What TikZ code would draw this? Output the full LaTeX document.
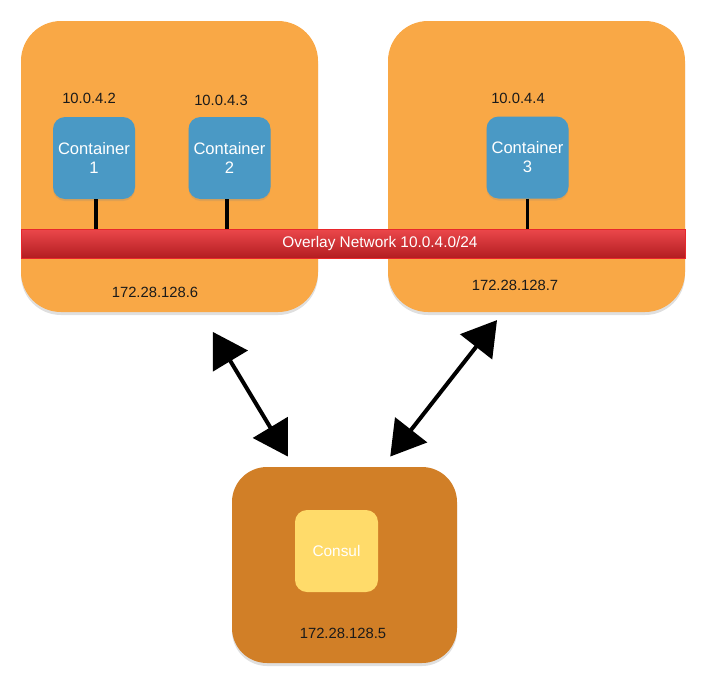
\documentclass[tikz,border=0pt]{standalone}
\usepackage{fontspec}
\setmainfont{Liberation Sans}
\usetikzlibrary{arrows.meta,shadows}
\definecolor{hostorange}{HTML}{F9A846}
\definecolor{consulhost}{HTML}{D17F27}
\definecolor{boxblue}{HTML}{4A99C5}
\definecolor{consulyellow}{HTML}{FFDB6A}
\definecolor{barred}{HTML}{E8272B}
\definecolor{bardark}{HTML}{B31D21}
\definecolor{labelgray}{HTML}{1A1A1A}
\begin{document}
\begin{tikzpicture}[x=1pt, y=-1pt,
      every node/.style = {inner sep=0pt, align=center},
      host/.style = {shape=rectangle, rounded corners=40pt, fill=hostorange,
        drop shadow={opacity=0.25, shadow xshift=0pt, shadow yshift=-3pt},
        minimum width=297pt, minimum height=291pt},
      container/.style = {shape=rectangle, rounded corners=12pt, fill=boxblue,
        text=white, font=\fontsize{16.6}{19}\selectfont,
        drop shadow={opacity=0.2, shadow xshift=0pt, shadow yshift=-2pt},
        minimum width=82pt, minimum height=82pt},
      addr/.style = {text=labelgray, font=\fontsize{14.8}{16}\selectfont},
      stub/.style = {line width=3.5pt, black},
      link/.style = {line width=4pt, black, {Triangle[length=34pt, width=40pt]}-{Triangle[length=34pt, width=40pt]}}]
  \useasboundingbox (0,0) rectangle (720,686);
  \node[host] (hostA) at (169.5,166.5) {};
  \node[host] (hostB) at (536.5,166.5) {};
  \node[host, fill=consulhost, rounded corners=35pt,
        minimum width=225pt, minimum height=196pt] (hostC) at (344.5,565) {};
  \node[shape=rectangle, top color=barred!85!white, bottom color=bardark,
        draw=barred, line width=0.5pt, text=white,
        font=\fontsize{15.4}{17}\selectfont,
        minimum width=664pt, minimum height=29pt] (overlay) at (353,243.5)
        {\hspace*{54pt}Overlay Network 10.0.4.0/24};
  \node[container] (c1) at (94,158) {Container\\1};
  \node[container] (c2) at (229.5,158) {Container\\2};
  \node[container] (c3) at (527.5,157.5) {Container\\3};
  \node[shape=rectangle, rounded corners=12pt, fill=consulyellow,
        text=white, font=\fontsize{15.4}{17}\selectfont,
        minimum width=83pt, minimum height=82pt] (consul) at (336.5,551) {Consul};
  \draw[stub] ([xshift=2pt]c1.south) -- ([xshift=2pt]c1.south |- overlay.north);
  \draw[stub] ([xshift=-2.5pt]c2.south) -- ([xshift=-2.5pt]c2.south |- overlay.north);
  \draw[stub] (c3.south) -- (c3.south |- overlay.north);
  \node[addr] (ipc1) at (89,98) {10.0.4.2};
  \node[addr] (ipc2) at (221,100) {10.0.4.3};
  \node[addr] (ipc3) at (518,98) {10.0.4.4};
  \node[addr] (ipA) at (155,292) {172.28.128.6};
  \node[addr] (ipB) at (515,285) {172.28.128.7};
  \node[addr] (ipC) at (343,633) {172.28.128.5};
  \draw[link, shorten <=23pt, shorten >=12pt]
    ([xshift=31.5pt]hostA.south) -- ([xshift=-50.5pt]hostC.north);
  \draw[link, shorten <=10pt, shorten >=13pt]
    ([xshift=-33.3pt]hostB.south) -- ([xshift=37.7pt]hostC.north);
\end{tikzpicture}
\end{document}
